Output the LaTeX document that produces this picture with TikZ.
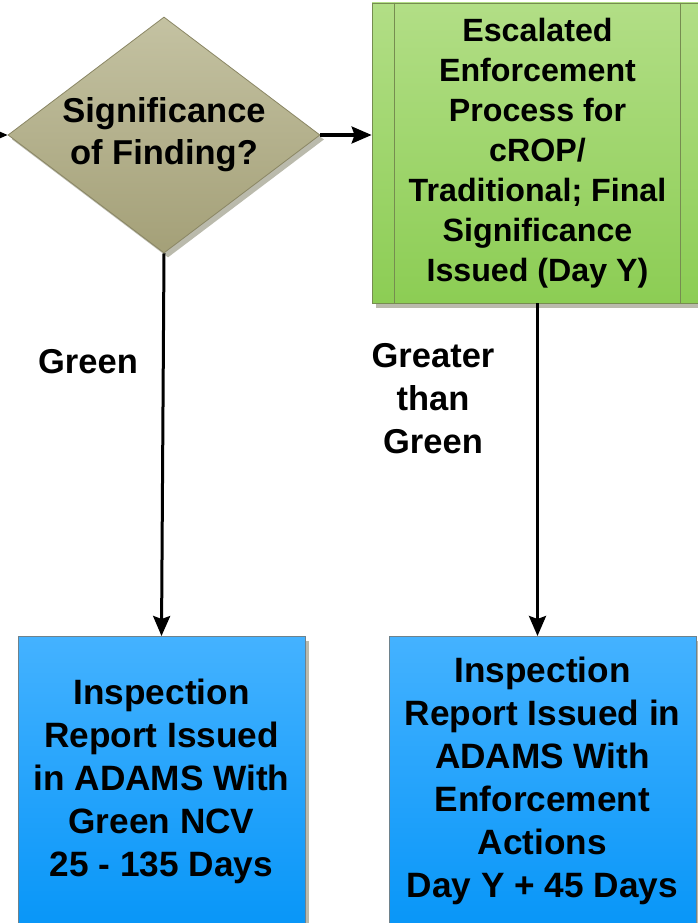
\documentclass[tikz,border=0pt]{standalone}
\usepackage{fontspec}
\setmainfont{Liberation Sans}
\usetikzlibrary{shapes.geometric,shadows,arrows.meta}
\definecolor{diatop}{RGB}{196,194,162}
\definecolor{diabot}{RGB}{164,160,120}
\definecolor{diaedge}{RGB}{138,134,100}
\definecolor{grtop}{RGB}{178,222,134}
\definecolor{grbot}{RGB}{140,205,84}
\definecolor{gredge}{RGB}{118,140,80}
\definecolor{bltop}{RGB}{68,178,255}
\definecolor{blbot}{RGB}{8,150,248}
\definecolor{bledge}{RGB}{110,130,140}
\definecolor{shade}{RGB}{186,186,172}
\begin{document}
\begin{tikzpicture}[x=1pt,y=-1pt,
  every node/.style={font=\bfseries, align=center, text=black},
  arr/.style={line width=3pt, -{Stealth[length=20pt,width=17pt,inset=3pt]}},
  myshadow/.style={drop shadow={shadow xshift=4pt,shadow yshift=-4.5pt,fill=shade,opacity=1}},
  decision/.style={diamond, aspect=1.32, inner sep=0pt, minimum width=312pt, minimum height=236pt,
     top color=diatop, bottom color=diabot, draw=diaedge, line width=0.8pt, myshadow},
  procbox/.style={rectangle, inner sep=0pt, minimum width=331pt, minimum height=300pt,
     top color=grtop, bottom color=grbot, draw=gredge, line width=0.8pt, myshadow},
  outbox/.style={rectangle, inner sep=0pt, minimum height=290pt, anchor=north,
     top color=bltop, bottom color=blbot, draw=bledge, line width=0.6pt, myshadow},
  lbl/.style={font=\bfseries\fontsize{34.5}{43}\selectfont}
]
\clip (0,0) rectangle (698,923);
\fill[white] (0,0) rectangle (698,923);

\node[decision, font=\bfseries\fontsize{34.5}{42}\selectfont] (dia) at (164,135) {Significance\\of Finding?};

\node[procbox, font=\bfseries\fontsize{32.2}{40}\selectfont] (esc) at (537.5,153)
  {Escalated\\Enforcement\\Process for\\cROP/\\Traditional; Final\\Significance\\Issued (Day Y)};
\draw[gredge, line width=0.8pt] ([xshift=23pt]esc.north west) -- ([xshift=23pt]esc.south west);
\draw[gredge, line width=0.8pt] ([xshift=-23pt]esc.north east) -- ([xshift=-23pt]esc.south east);

\node[outbox, minimum width=287pt, font=\bfseries\fontsize{35.2}{43}\selectfont] (lbox) at (161.5,636)
  {Inspection\\Report Issued\\in ADAMS With\\Green NCV\\25 - 135 Days};
\node[outbox, minimum width=307pt, font=\bfseries\fontsize{35.2}{43}\selectfont] (rbox) at (542.5,636)
  {Inspection\\Report Issued in\\ADAMS With\\Enforcement\\Actions\\Day Y + 45 Days};

\node[lbl] (lg) at (88,362) {Green};
\node[lbl] (lgg) at (433,399) {Greater\\than\\Green};

\coordinate (inc) at (-12,135);
\draw[arr] (inc) -- (dia.west);
\draw[arr] (dia.east) -- (dia.east -| esc.west);
\draw[arr] (dia.south) -- (lbox.north);
\draw[arr] (esc.south) -- (esc.south |- rbox.north);
\end{tikzpicture}
\end{document}
